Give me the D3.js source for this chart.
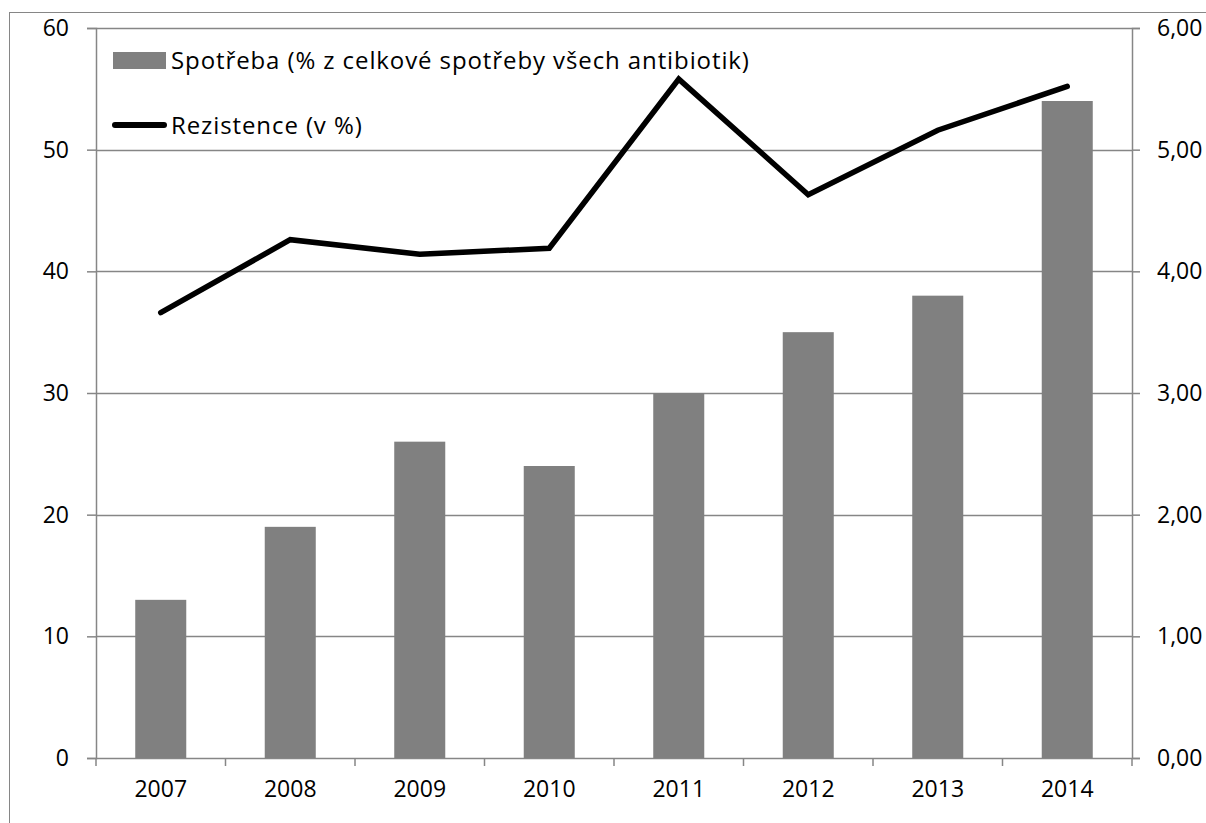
<!DOCTYPE html>
<html lang="cs">
<head>
<meta charset="UTF-8"/>
<title>Spotřeba a rezistence</title>
<script src="https://d3js.org/d3.v7.min.js"></script>
<style>
    body { margin: 0; background: #fff; }
    text { font-family: "Open Sans", Lato, sans-serif; fill: #000; font-variant-ligatures: none; }
</style>
</head>
<body>
<script>
    // Data
    var years = ["2007", "2008", "2009", "2010", "2011", "2012", "2013", "2014"];
    var spotreba = [13, 19, 26, 24, 30, 35, 38, 54];
    var rezistence = [3.66, 4.26, 4.14, 4.19, 5.58, 4.63, 5.16, 5.52];
    var leftTicks = [0, 10, 20, 30, 40, 50, 60];
    var rightTicks = [0, 1, 2, 3, 4, 5, 6];
    var seriesNames = ["Spotřeba (% z celkové spotřeby všech antibiotik)", "Rezistence (v %)"];

    var w = 1206;
    var h = 823;
    var margin = { top: 28, right: 74, bottom: 65, left: 96 };
    var gridColour = "#868686";

    var svg = d3.select("body")
        .append("svg")
        .attr("width", w)
        .attr("height", h);

    // outer chart border
    svg.append("rect")
        .attr("x", 9.5)
        .attr("y", 12.5)
        .attr("width", 1210)
        .attr("height", 830)
        .attr("fill", "none")
        .attr("stroke", gridColour);

    var xScale = d3.scaleBand()
        .domain(years)
        .range([margin.left, w - margin.right]);

    var yLeft = d3.scaleLinear()
        .domain([0, 60])
        .range([h - margin.bottom, margin.top]);

    var yRight = d3.scaleLinear()
        .domain([0, 6])
        .range([h - margin.bottom, margin.top]);

    // gridlines
    svg.append("g")
        .selectAll("line")
        .data(leftTicks)
        .enter()
        .append("line")
        .attr("x1", margin.left)
        .attr("x2", w - margin.right)
        .attr("y1", d => Math.round(yLeft(d)) + 0.5)
        .attr("y2", d => Math.round(yLeft(d)) + 0.5)
        .attr("stroke", gridColour)
        .attr("stroke-width", 1.5);

    // bars
    var barW = xScale.bandwidth() * 0.394;
    svg.append("g")
        .selectAll("rect")
        .data(spotreba)
        .enter()
        .append("rect")
        .attr("x", (d, i) => xScale(years[i]) + xScale.bandwidth() / 2 - barW / 2)
        .attr("y", d => yLeft(d))
        .attr("width", barW)
        .attr("height", d => yLeft(0) - yLeft(d))
        .attr("fill", "#808080");

    // axes
    var leftAxis = d3.axisLeft(yLeft)
        .tickValues(leftTicks)
        .tickSize(9)
        .tickPadding(18);

    var rightAxis = d3.axisRight(yRight)
        .tickValues(rightTicks)
        .tickSize(8)
        .tickPadding(17)
        .tickFormat(d => d3.format(".2f")(d).replace(".", ","));

    var bottomAxis = d3.axisBottom(xScale)
        .tickSize(0)
        .tickPadding(23);

    function styleAxis(g) {
        g.select(".domain").attr("stroke", gridColour).attr("stroke-width", 1.5);
        g.selectAll(".tick line").attr("stroke", gridColour).attr("stroke-width", 1.5);
        g.selectAll(".tick text").style("font-size", "23px").attr("fill", "#000");
    }

    svg.append("g")
        .attr("transform", `translate(${margin.left},0)`)
        .call(leftAxis)
        .call(styleAxis);

    svg.append("g")
        .attr("transform", `translate(${w - margin.right},0)`)
        .call(rightAxis)
        .call(styleAxis);

    var xg = svg.append("g")
        .attr("transform", `translate(0,${h - margin.bottom})`)
        .call(bottomAxis)
        .call(styleAxis);
    xg.select(".domain").remove();

    // x axis category tick marks at band boundaries
    var boundaries = years.map(y => xScale(y)).concat([w - margin.right]);
    svg.append("g")
        .selectAll("line")
        .data(boundaries)
        .enter()
        .append("line")
        .attr("x1", d => d)
        .attr("x2", d => d)
        .attr("y1", h - margin.bottom)
        .attr("y2", h - margin.bottom + 8)
        .attr("stroke", gridColour)
        .attr("stroke-width", 1.5);

    // line series
    var line = d3.line()
        .x((d, i) => xScale(years[i]) + xScale.bandwidth() / 2)
        .y(d => yRight(d));

    svg.append("path")
        .datum(rezistence)
        .attr("d", line)
        .attr("fill", "none")
        .attr("stroke", "#000")
        .attr("stroke-width", 5.5)
        .attr("stroke-linecap", "round")
        .attr("stroke-linejoin", "miter");

    // legend
    var legend = svg.append("g");
    legend.append("rect")
        .attr("x", 113)
        .attr("y", 52)
        .attr("width", 53)
        .attr("height", 17)
        .attr("fill", "#808080");
    legend.append("text")
        .attr("x", 171)
        .attr("y", 60)
        .attr("dy", "0.36em")
        .style("font-size", "24px")
        .style("letter-spacing", "0.9px")
        .text(seriesNames[0]);

    legend.append("line")
        .attr("x1", 115)
        .attr("x2", 164)
        .attr("y1", 125)
        .attr("y2", 125)
        .attr("stroke", "#000")
        .attr("stroke-width", 6)
        .attr("stroke-linecap", "round");
    legend.append("text")
        .attr("x", 171)
        .attr("y", 125)
        .attr("dy", "0.36em")
        .style("font-size", "24px")
        .style("letter-spacing", "0.9px")
        .text(seriesNames[1]);
</script>
</body>
</html>
